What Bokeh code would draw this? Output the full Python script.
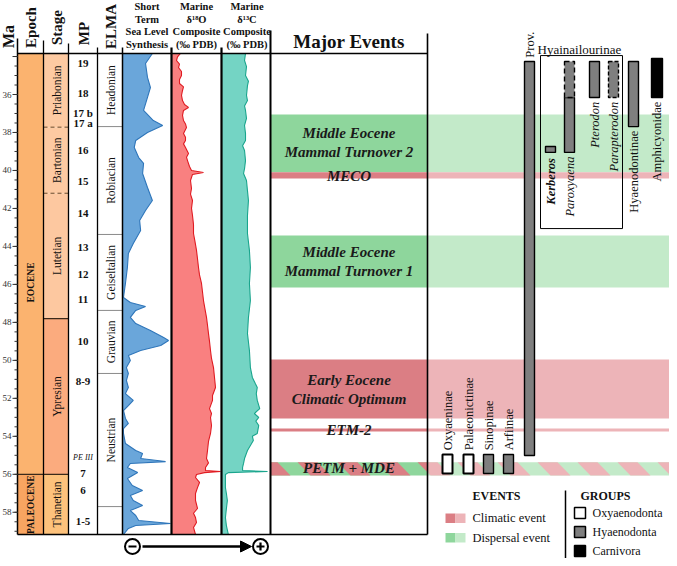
from math import pi
from bokeh.plotting import figure
from bokeh.models import Range1d, Arrow, NormalHead
from bokeh.core.properties import value
from bokeh.embed import file_html
from bokeh.resources import INLINE

# ---------------- data ----------------
top_ma, base_ma = 33.84, 59.17
ma_major = [36, 38, 40, 42, 44, 46, 48, 50, 52, 54, 56, 58]

epochs = ["EOCENE", "PALEOCENE"]
epoch_top = [33.84, 56.0]
epoch_base = [56.0, 59.17]
epoch_label_ma = [45.9, 57.6]
epoch_colors = ["#FBB36F", "#F8A561"]

stages = ["Priabonian", "Bartonian", "Lutetian", "Ypresian", "Thanetian"]
stage_top = [33.84, 37.72, 41.2, 47.8, 56.0]
stage_base = [37.72, 41.2, 47.8, 56.0, 59.17]
stage_colors = ["#FDCAA2", "#FDCAA2", "#FDC8A0", "#FBAB7E", "#FDC27C"]
stage_bounds = [37.72, 41.2, 47.8, 56.0]
stage_bound_dash = ["4 3", "4 3", "solid", "solid"]

mp_labels = ["19", "18", "17 b", "17 a", "16", "15", "14", "13", "12", "11", "10", "8-9", "7", "6", "1-5"]
mp_ma = [34.37, 35.95, 36.95, 37.48, 38.95, 40.58, 42.26, 44.06, 45.48, 46.80, 49.01, 51.12, 55.96, 56.85, 58.49]
pe_label, pe_ma = "PE III", 55.12

elma = ["Headonian", "Robiacian", "Geiseltalian", "Grauvian", "Neustrian", ""]
elma_top = [33.84, 37.69, 43.37, 47.37, 50.69, 57.7]
elma_base = [37.69, 43.37, 47.37, 50.69, 57.7, 59.17]

sl_ma = [33.84, 34.37, 35.10, 35.63, 36.32, 36.84, 37.37, 37.63, 38.00, 38.42, 38.79, 39.32, 39.63,
         40.16, 40.90, 41.58, 42.11, 42.64, 43.16, 43.85, 44.37, 45.11, 45.95, 46.69, 46.95, 47.16,
         47.37, 47.74, 48.06, 48.43, 48.80, 48.95, 49.22, 49.48, 49.74, 50.01, 50.38, 50.69, 51.06,
         51.43, 51.75, 52.11, 52.38, 52.64, 53.06, 53.32, 53.59, 53.85, 54.38, 54.75, 54.90, 55.17,
         55.33, 55.43, 55.64, 55.91, 56.22, 56.59, 56.85, 57.12, 57.38, 57.64, 57.91, 58.17, 58.43,
         58.59, 58.70, 58.85, 59.17]
sl_val = [0.61, 0.47, 0.51, 0.57, 0.49, 0.43, 0.63, 0.82, 0.51, 0.27, 0.24, 0.33, 0.43,
          0.41, 0.51, 0.61, 0.47, 0.35, 0.37, 0.22, 0.12, 0.10, 0.06, 0.02, 0.16, 0.47,
          0.27, 0.16, 0.27, 0.57, 0.84, 0.94, 0.78, 0.37, 0.12, 0.16, 0.08, 0.12, 0.08,
          0.12, 0.06, 0.22, 0.12, 0.02, 0.06, 0.12, 0.02, 0.02, 0.06, 0.27, 0.41, 0.37,
          0.88, 0.16, 0.10, 0.31, 0.10, 0.20, 0.41, 0.16, 0.22, 0.41, 0.16, 0.27, 0.33,
          0.98, 0.27, 0.12, 0.02]

d18o_ma = [33.84, 34.02, 34.21, 34.40, 34.58, 34.79, 35.00, 35.21, 35.42, 35.60, 35.79, 36.05, 36.32,
           36.53, 36.68, 36.84, 37.10, 37.37, 37.55, 37.74, 38.05, 38.25, 38.42, 38.60, 38.79, 39.11,
           39.30, 39.48, 39.79, 40.00, 40.11, 40.21, 40.53, 40.95, 41.25, 41.58, 42.00, 42.37, 42.85,
           43.32, 43.75, 44.21, 44.65, 45.11, 45.50, 45.95, 46.40, 46.85, 47.30, 47.74, 48.15, 48.59,
           49.00, 49.48, 49.90, 50.38, 50.90, 51.43, 51.85, 52.11, 52.54, 52.80, 53.01, 53.43, 53.85,
           54.27, 54.75, 55.17, 55.40, 55.64, 55.80, 55.85, 55.91, 56.01, 56.17, 56.43, 56.70, 57.01,
           57.38, 57.80, 58.05, 58.28, 58.54, 58.80, 59.17]
d18o_val = [0.18, 0.12, 0.10, 0.16, 0.14, 0.20, 0.20, 0.16, 0.16, 0.24, 0.22, 0.20, 0.22,
            0.26, 0.34, 0.24, 0.22, 0.24, 0.28, 0.30, 0.24, 0.28, 0.28, 0.24, 0.28, 0.34,
            0.30, 0.32, 0.36, 0.40, 0.64, 0.42, 0.38, 0.40, 0.38, 0.42, 0.40, 0.42, 0.44,
            0.44, 0.47, 0.50, 0.52, 0.54, 0.56, 0.60, 0.62, 0.64, 0.67, 0.70, 0.72, 0.74,
            0.76, 0.78, 0.80, 0.84, 0.86, 0.88, 0.82, 0.82, 0.76, 0.80, 0.78, 0.80, 0.78,
            0.74, 0.72, 0.70, 0.74, 0.68, 0.68, 0.98, 0.66, 0.50, 0.48, 0.56, 0.52, 0.48,
            0.48, 0.52, 0.44, 0.48, 0.50, 0.44, 0.48]

d13c_ma = [33.84, 34.21, 34.53, 35.00, 35.30, 35.53, 36.05, 36.32, 36.60, 36.84, 37.26, 37.63, 38.05,
           38.42, 38.70, 38.95, 39.48, 39.90, 40.16, 40.53, 41.06, 41.58, 42.37, 43.32, 44.21, 45.11,
           45.95, 46.85, 47.74, 48.59, 49.48, 50.38, 50.90, 51.22, 51.43, 51.75, 52.11, 52.54, 52.80,
           53.01, 53.20, 53.43, 53.85, 54.00, 54.22, 54.48, 54.75, 55.17, 55.43, 55.64, 55.80, 55.85,
           55.91, 56.01, 56.33, 56.70, 57.01, 57.38, 57.80, 58.28, 58.70, 59.17]
d13c_val = [0.49, 0.47, 0.51, 0.49, 0.55, 0.53, 0.51, 0.53, 0.47, 0.49, 0.51, 0.47, 0.49,
            0.49, 0.43, 0.47, 0.49, 0.47, 0.45, 0.51, 0.53, 0.55, 0.53, 0.53, 0.57, 0.59,
            0.57, 0.59, 0.55, 0.53, 0.57, 0.59, 0.63, 0.69, 0.73, 0.71, 0.73, 0.78, 0.67,
            0.76, 0.70, 0.76, 0.73, 0.63, 0.65, 0.59, 0.53, 0.47, 0.45, 0.43, 0.43, 0.94,
            0.14, 0.08, 0.08, 0.08, 0.10, 0.12, 0.10, 0.08, 0.10, 0.14]

event_top = [37.05, 40.10, 43.42, 49.95, 53.59, 55.36]
event_base = [40.10, 40.42, 46.16, 53.06, 53.74, 56.06]
event_kind = ["dispersal", "climatic", "dispersal", "climatic", "climatic", "both"]
event_lines = ["Middle Eocene", "Mammal Turnover 2", "MECO", "Middle Eocene", "Mammal Turnover 1",
               "Early Eocene", "Climatic Optimum", "ETM-2", "PETM + MDE"]
event_line_ma = [38.05, 39.05, 40.27, 44.27, 45.27, 51.01, 52.01, 53.69, 55.69]

taxa = ["Prov.", "Kerberos", "Paroxyaena", "Pterodon", "Parapterodon", "Hyaenodontinae",
        "Amphicyonidae", "Oxyaeninae", "Palaeonictinae", "Sinopinae", "Arfiinae"]
taxa_top = [34.26, 38.74, 36.16, 34.26, 34.26, 34.26, 34.10, 54.96, 54.96, 54.96, 54.96]
taxa_base = [55.01, 39.05, 39.05, 36.16, 36.16, 37.69, 36.16, 55.96, 55.96, 55.96, 55.96]
taxa_group = ["Hyaenodonta", "Hyaenodonta", "Hyaenodonta", "Hyaenodonta", "Hyaenodonta", "Hyaenodonta",
              "Carnivora", "Oxyaenodonta", "Oxyaenodonta", "Hyaenodonta", "Hyaenodonta"]
taxa_style = ["normal", "bold italic", "italic", "italic", "italic", "normal", "normal",
              "normal", "normal", "normal", "normal"]
taxa_dashed = [False, False, False, False, True, False, False, False, False, False, False]
uncertain_taxa = ["Paroxyaena"]
uncertain_top = [34.26]
uncertain_base = [36.16]
clade_box = "Hyainailourinae"
clade_top, clade_base = 33.95, 43.06

group_names = ["Oxyaenodonta", "Hyaenodonta", "Carnivora"]
group_colors = ["#FFFFFF", "#7F7F7F", "#000000"]
event_legend = ["Climatic event", "Dispersal event"]

# ---------------- layout helpers ----------------
def M(py):  # image pixel row -> Ma (layout only)
    return 36 + (py - 94) / 18.99

SERIF = value("Liberation Serif")
DG, LG, DR, LR = "#8ED69C", "#C3EAC9", "#DB7E84", "#EDB4B8"
gcol = dict(zip(group_names, group_colors))

p = figure(width=669, height=558, x_range=Range1d(0, 669), y_range=Range1d(M(558), M(0)),
           output_backend="svg", toolbar_location=None, min_border=0)
p.axis.visible = False
p.grid.visible = False
p.outline_line_color = None
p.background_fill_color = "white"
p.border_fill_color = "white"


def txt(x, y, s, size, style="normal", angle=0, align="center", baseline="middle", color="#111111"):
    p.text(x=[x], y=[y], text=[s], text_font=SERIF, text_font_size=f"{size}px",
           text_font_style=style, angle=angle, text_align=align, text_baseline=baseline,
           text_color=color)

# columns (pixel x)
XA = 17
EP = (17, 43); ST = (43, 68); MPc = (68, 97); EL = (97, 122)
SL = (122, 171); O18 = (171, 221); C13 = (221, 270); EV = (270, 427); RR = (427, 677)

# epoch / stage fills
p.quad(left=EP[0], right=EP[1], top=epoch_top, bottom=epoch_base, fill_color=epoch_colors, line_color=None)
p.quad(left=ST[0], right=ST[1], top=stage_top, bottom=stage_base, fill_color=stage_colors, line_color=None)
for b, d in zip(stage_bounds, stage_bound_dash):
    x0 = EP[0] if b == 56.0 else ST[0]
    p.line([x0, ST[1]], [b, b], line_color="#3a2a1a" if d == "solid" else "#6b4a2a",
           line_width=1.3 if d == "solid" else 1, line_dash=d)
for name, ym in zip(epochs, epoch_label_ma):
    txt((EP[0] + EP[1]) / 2, ym, name, 9.5, "bold", pi / 2)
for name, t, b in zip(stages, stage_top, stage_base):
    txt((ST[0] + ST[1]) / 2 + 1, (t + b) / 2, name, 11.5, "normal", pi / 2)

# MP labels
for lab, ym in zip(mp_labels, mp_ma):
    txt((MPc[0] + MPc[1]) / 2, ym, lab, 11, "bold")
txt((MPc[0] + MPc[1]) / 2, pe_ma, pe_label, 8, "italic")

# ELMA
for name, t, b in zip(elma, elma_top, elma_base):
    if t > top_ma:
        p.line([EL[0], EL[1]], [t, t], line_color="#8a8a8a", line_width=1)
    if name:
        txt((EL[0] + EL[1]) / 2 + 1, (t + b) / 2, name, 11.5, "normal", pi / 2)

# curves
def curve(col, ma, val, fill, line):
    xs = [col[0] + v * (col[1] - col[0]) for v in val]
    p.harea(x1=[col[0]] * len(ma), x2=xs, y=ma, fill_color=fill, fill_alpha=1)
    p.line(xs, ma, line_color=line, line_width=1.1)

curve(SL, sl_ma, sl_val, "#6AA6DA", "#2F76BA")
curve(O18, d18o_ma, d18o_val, "#F98080", "#E01B22")
curve(C13, d13c_ma, d13c_val, "#74D4C4", "#1AA58D")

# event bands
def clip_poly(pts, xa, xb):
    def clip(pts, inside, xc):
        out = []
        for i in range(len(pts)):
            cur, prev = pts[i], pts[i - 1]
            def inter(a, b):
                return (xc, a[1] + (b[1] - a[1]) * (xc - a[0]) / (b[0] - a[0]))
            if inside(cur):
                if not inside(prev):
                    out.append(inter(prev, cur))
                out.append(cur)
            elif inside(prev):
                out.append(inter(prev, cur))
        return out
    pts = clip(pts, lambda q: q[0] >= xa, xa)
    if pts:
        pts = clip(pts, lambda q: q[0] <= xb, xb)
    return pts

for t, b, k in zip(event_top, event_base, event_kind):
    for (xa, xb), dark in ((EV, True), (RR, False)):
        if k == "climatic":
            c = DR if dark else LR
        else:
            c = DG if dark else LG
        p.quad(left=xa, right=xb, top=t, bottom=b, fill_color=c, line_color=None)
        if k == "both":
            xs_list, ys_list = [], []
            s = 257 - 40 * 2
            while s < xb + 20:
                poly = [(s, t), (s + 20, t), (s + 33, b), (s + 13, b)]
                cp = clip_poly(poly, xa, xb)
                if len(cp) >= 3:
                    xs_list.append([q[0] for q in cp]); ys_list.append([q[1] for q in cp])
                s += 40
            p.patches(xs_list, ys_list, fill_color=DR if dark else LR, line_color=None)

for s, ym in zip(event_lines, event_line_ma):
    txt((EV[0] + EV[1]) / 2, ym, s, 15, "bold italic", color="#1a1a1a")

# borders & column lines
p.line([XA, EV[1]], [top_ma, top_ma], line_color="black", line_width=1.5)
p.line([XA, EV[1]], [base_ma, base_ma], line_color="black", line_width=1.5)
for x, y0, w in [(XA, 38, 1.5), (EP[1], 40, 1.3), (ST[1], 43, 1.3), (MPc[1], 47, 1.3),
                 (EL[1], 47, 1.5), (SL[1], 47, 2.2), (O18[1], 47, 2.2), (C13[1], 30, 2), (EV[1], 33, 1.6)]:
    p.line([x, x], [M(y0), base_ma], line_color="black", line_width=w)

# Ma axis ticks
mt = 34.0
minor = []
while mt <= base_ma:
    minor.append(mt); mt += 0.5
p.segment(x0=[XA - 3] * len(minor), x1=[XA] * len(minor), y0=minor, y1=minor, line_color="#333", line_width=1)
p.segment(x0=[XA - 5] * (len(ma_major) + 1), x1=[XA] * (len(ma_major) + 1), y0=[34] + ma_major,
          y1=[34] + ma_major, line_color="#333", line_width=1)
p.text(x=[11] * len(ma_major), y=ma_major, text=[str(v) for v in ma_major], text_font=SERIF,
       text_font_size="9px", text_align="right", text_baseline="middle", text_color="#333")

# headers
txt(8, M(36), "Ma", 16, "bold", pi / 2)
txt(30, M(27), "Epoch", 15, "bold", pi / 2)
txt(56, M(27), "Stage", 15, "bold", pi / 2)
txt(83, M(33), "MP", 15, "bold", pi / 2)
txt(110, M(26), "ELMA", 15, "bold", pi / 2)
for i, s in enumerate(["Short", "Term", "Sea Level", "Synthesis"]):
    txt((SL[0] + SL[1]) / 2, M(6 + 12.5 * i), s, 10.5, "bold")
for i, s in enumerate(["Marine", "δ¹⁸O", "Composite", "(‰ PDB)"]):
    txt((O18[0] + O18[1]) / 2, M(6 + 12.5 * i), s, 10.5, "bold")
for i, s in enumerate(["Marine", "δ¹³C", "Composite", "(‰ PDB)"]):
    txt((C13[0] + C13[1]) / 2 + 1, M(6 + 12.5 * i), s, 10.5, "bold")
txt((EV[0] + EV[1]) / 2, M(41), "Major Events", 19, "bold")

# bottom arrow
ya = M(546)
p.add_layout(Arrow(end=NormalHead(size=11, fill_color="black", line_color="black"),
                   x_start=142, y_start=ya, x_end=251, y_end=ya, line_width=2.5, line_color="black"))
p.scatter([132, 260], [ya, ya], marker="circle", size=15, fill_color="white", line_color="black", line_width=2)
p.scatter([132], [ya], marker="dash", size=8, line_color="black", line_width=2.2)
p.scatter([260], [ya], marker="cross", size=8, line_color="black", line_width=2.2)

# taxa
taxa_x = [529, 550, 569, 594, 613, 633, 656.5, 447, 468, 488, 508]
for name, x, t, b, g, st, dsh in zip(taxa, taxa_x, taxa_top, taxa_base, taxa_group, taxa_style, taxa_dashed):
    w = 5.5 if g == "Carnivora" else 5
    lw = 2 if g == "Oxyaenodonta" else 1.4
    p.quad(left=x - w, right=x + w, top=t, bottom=b, fill_color=gcol[g], line_color="black",
           line_width=lw, line_dash="4 2" if dsh else "solid")
    if name == "Prov.":
        txt(x, t - 0.2, name, 12.5, st, pi / 2, align="left")
    elif t > 50:
        txt(x, t - 0.22, name, 12.5, st, pi / 2, align="left")
    else:
        txt(x, b + (0.3 if name == "Kerberos" else 0.22), name, 12.5, st, pi / 2, align="right")
for name, t, b in zip(uncertain_taxa, uncertain_top, uncertain_base):
    x = taxa_x[taxa.index(name)]
    p.quad(left=x - 5, right=x + 5, top=t, bottom=b, fill_color="#7F7F7F", line_color="black",
           line_width=1.4, line_dash="5 3")
p.quad(left=540, right=622, top=clade_top, bottom=clade_base, fill_color=None, line_color="black", line_width=1)
txt(537, M(49), clade_box, 13, "normal", align="left", baseline="middle")

# legend
txt(496, M(495), "EVENTS", 12, "bold")
txt(605, M(495), "GROUPS", 12, "bold")
p.line([565, 565], [M(490), M(566)], line_color="black", line_width=1.5)
for i, (lab, cd, cl) in enumerate(zip(event_legend, [DR, DG], [LR, LG])):
    yt, yb = M(513 + 19.5 * i), M(522.5 + 19.5 * i)
    p.quad(left=445, right=455, top=yt, bottom=yb, fill_color=cd, line_color=None)
    p.quad(left=455, right=465, top=yt, bottom=yb, fill_color=cl, line_color=None)
    txt(472, (yt + yb) / 2, lab, 12.5, align="left")
for i, (g, c) in enumerate(zip(group_names, group_colors)):
    yt, yb = M(507 + 19 * i), M(518 + 19 * i)
    p.quad(left=574, right=585, top=yt, bottom=yb, fill_color=c, line_color="black", line_width=1.5)
    txt(592, (yt + yb) / 2, g, 12, align="left")

open("out.html", "w").write(file_html(p, INLINE))
